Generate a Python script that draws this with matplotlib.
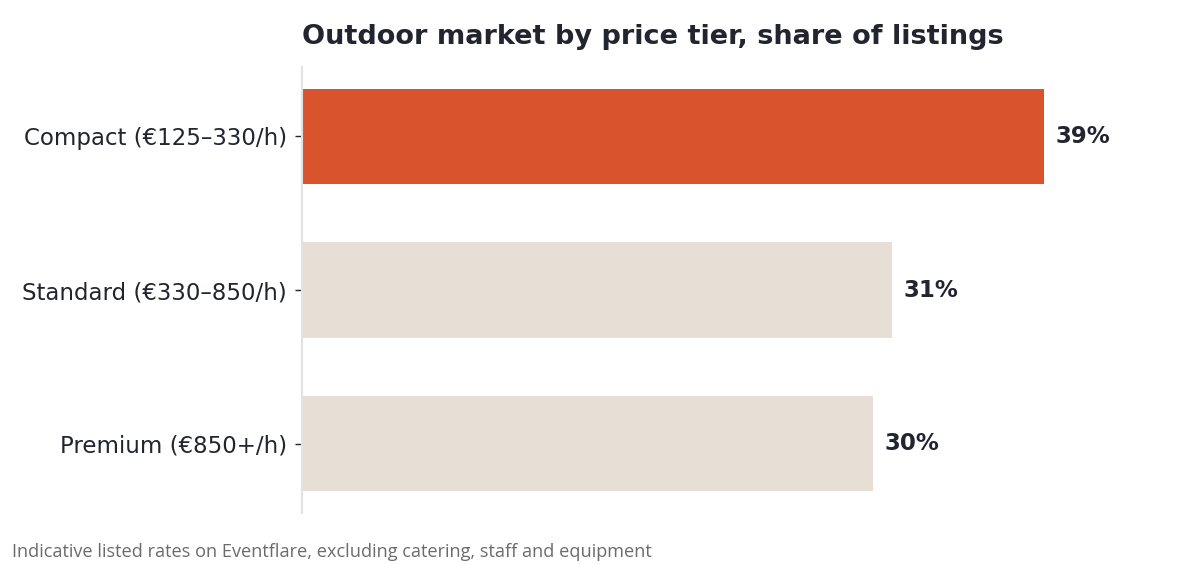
import matplotlib.pyplot as plt

# data
tiers = ["Compact (€125–330/h)", "Standard (€330–850/h)", "Premium (€850+/h)"]
shares = [39, 31, 30]
highlight = "Compact (€125–330/h)"

dark = "#22252f"
orange = "#d9532c"
beige = "#e7ded5"

fig = plt.figure(figsize=(12, 5.64), dpi=100)
ax = fig.add_axes([0.2517, 0.0904, 0.7108, 0.7906])

ypos = list(range(len(tiers)))
colors = [orange if t == highlight else beige for t in tiers]
ax.barh(ypos, shares, height=0.62, color=colors)

# value labels
for y, v in zip(ypos, shares):
    ax.annotate(f"{v}%", xy=(v, y), xytext=(8.5, 0), textcoords="offset points",
                va="center", ha="left", fontsize=16.5, fontweight="bold", color=dark)

ax.set_yticks(ypos)
ax.set_yticklabels(tiers, fontsize=16.5, color=dark)
ax.set_ylim(2.45, -0.45)
ax.set_xlim(0, max(shares) * 1.15)
ax.set_xticks([])

for s in ["top", "right", "bottom"]:
    ax.spines[s].set_visible(False)
ax.spines["left"].set_color("#e2e2e2")
ax.spines["left"].set_linewidth(1.5)
ax.tick_params(axis="y", length=5, color=dark, width=1, pad=6)

ax.set_title("Outdoor market by price tier, share of listings", loc="left",
             fontsize=19.5, fontweight="bold", color=dark, pad=17)

fig.text(0.01, 0.005, "Indicative listed rates on Eventflare, excluding catering, staff and equipment",
         fontsize=13.1, color="#6b6b6b", family="Open Sans", va="bottom")

plt.savefig("out.png", dpi=100)
